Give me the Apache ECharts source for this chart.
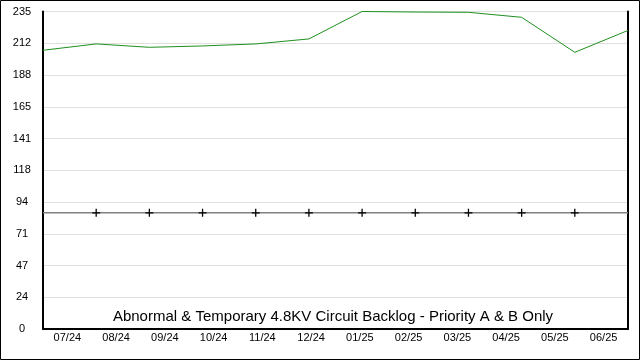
<!DOCTYPE html>
<html>
<head>
<meta charset="utf-8">
<script src="https://cdn.jsdelivr.net/npm/echarts@6/dist/echarts.min.js"></script>
<style>
html,body{margin:0;padding:0;background:#fff;}
#chart{width:640px;height:360px;}
</style>
</head>
<body>
<div id="chart"></div>
<script>
var categories = ['07/24','08/24','09/24','10/24','11/24','12/24','01/25','02/25','03/25','04/25','05/25','06/25'];
var backlog = [206.3, 211, 208.5, 209.5, 211, 214.7, 235, 234.6, 234.4, 230.7, 204.8, 221];
var reference = [86, 86, 86, 86, 86, 86, 86, 86, 86, 86, 86, 86];
var yTickLabels = ['0','24','47','71','94','118','141','165','188','212','235'];
var titleText = 'Abnormal & Temporary 4.8KV Circuit Backlog - Priority A & B Only';

var FONT = '"Liberation Sans", Arial, sans-serif';
var chart = echarts.init(document.getElementById('chart'));
var plus = 'path://M0,4.2H10V5.8H0Z M4.2,0H5.8V10H4.2Z';
var refData = reference.map(function (v, i) {
  var last = reference.length - 1;
  return (i === 0 || i === last) ? { value: v, symbol: 'none' } : v;
});

chart.setOption({
  animation: false,
  backgroundColor: '#fff',
  grid: { left: 43, right: 12, top: 11.5, bottom: 31, containLabel: false },
  xAxis: [
    {
      type: 'category', data: categories, boundaryGap: false,
      axisLine: { show: false }, axisTick: { show: false }, axisLabel: { show: false },
      splitLine: { show: false }
    },
    {
      type: 'category', data: categories, boundaryGap: true, position: 'bottom',
      axisLine: { show: true, lineStyle: { color: '#000', width: 2 } },
      axisTick: { show: false },
      axisLabel: { color: '#000', fontFamily: FONT, fontSize: 11, margin: 3 },
      splitLine: { show: false }
    }
  ],
  yAxis: [
    {
      type: 'value', min: 0, max: 235, interval: 23.5,
      axisLine: { show: true, lineStyle: { color: '#000', width: 2 } },
      axisTick: { show: false },
      axisLabel: {
        color: '#000', fontFamily: FONT, fontSize: 11, align: 'center', margin: 21,
        formatter: function (v) { return yTickLabels[Math.round(v / 23.5)]; }
      },
      splitLine: { show: true, lineStyle: { color: '#e0e0e0', width: 1 } }
    },
    {
      type: 'value', min: 0, max: 235, interval: 23.5, position: 'right',
      axisLine: { show: true, lineStyle: { color: '#000', width: 2 } },
      axisTick: { show: false }, axisLabel: { show: false }, splitLine: { show: false }
    }
  ],
  series: [
    {
      type: 'line', xAxisIndex: 0, yAxisIndex: 0, data: refData,
      symbol: plus, symbolSize: 8, showSymbol: true,
      lineStyle: { color: '#808080', width: 1.5 },
      itemStyle: { color: '#000' },
      silent: true, z: 2
    },
    {
      type: 'line', xAxisIndex: 0, yAxisIndex: 0, data: backlog,
      symbol: 'none', lineStyle: { color: '#1f8f1f', width: 1 },
      silent: true, z: 3
    }
  ],
  graphic: [
    {
      type: 'text', x: 333, y: 317,
      style: { text: titleText, font: '15px ' + FONT, fill: '#000', align: 'center', verticalAlign: 'middle' },
      z: 10
    },
    {
      type: 'rect', shape: { x: 0.5, y: 0.5, width: 639, height: 359 },
      style: { fill: 'none', stroke: '#000', lineWidth: 1 }, z: 10
    }
  ]
});
</script>
</body>
</html>
